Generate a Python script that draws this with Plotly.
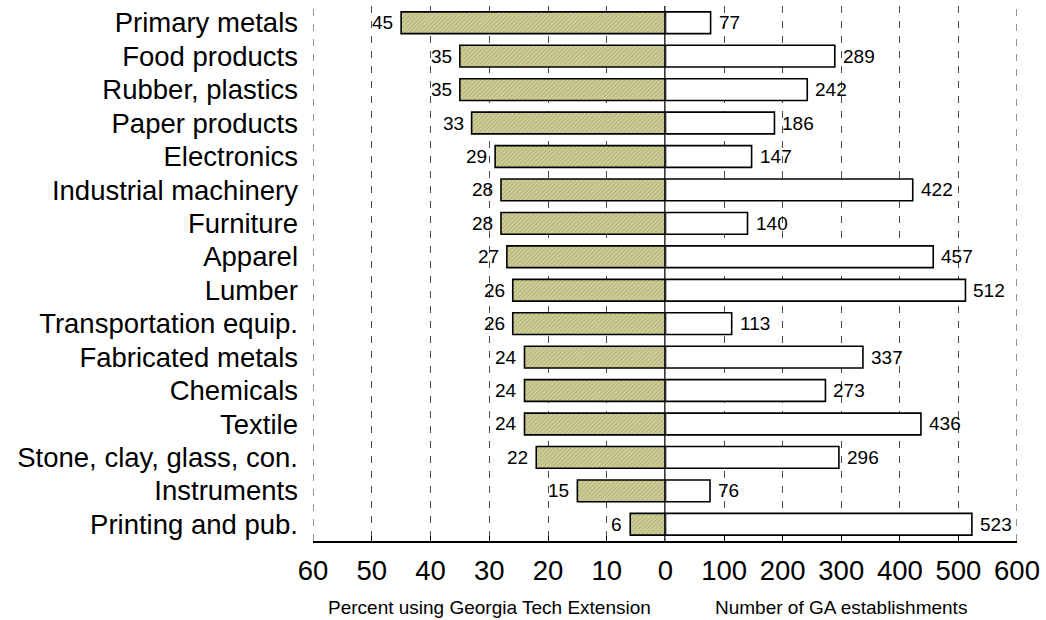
import plotly.graph_objects as go

industries = [
    "Primary metals", "Food products", "Rubber, plastics", "Paper products",
    "Electronics", "Industrial machinery", "Furniture", "Apparel", "Lumber",
    "Transportation equip.", "Fabricated metals", "Chemicals", "Textile",
    "Stone, clay, glass, con.", "Instruments", "Printing and pub.",
]
pct_using = [45, 35, 35, 33, 29, 28, 28, 27, 26, 26, 24, 24, 24, 22, 15, 6]
num_establishments = [77, 289, 242, 186, 147, 422, 140, 457, 512, 113,
                      337, 273, 436, 296, 76, 523]

left_ticks = [60, 50, 40, 30, 20, 10, 0]
right_ticks = [100, 200, 300, 400, 500, 600]

FONT = "Liberation Sans, Arial, sans-serif"
GRID_DASH = "7px,8px"
GRID_COLOR = "#4a4a4a"

fig = go.Figure()

fig.add_trace(go.Bar(
    y=industries, x=pct_using, orientation="h", xaxis="x", yaxis="y",
    marker=dict(
        color="#d0d098",
        line=dict(color="black", width=1.6),
        pattern=dict(shape="/", fgcolor="#8f8f5c", size=3, solidity=0.35),
    ),
    showlegend=False, hoverinfo="x+y",
))

fig.add_trace(go.Bar(
    y=industries, x=num_establishments, orientation="h", xaxis="x2", yaxis="y",
    marker=dict(color="white", line=dict(color="black", width=1.6)),
    showlegend=False, hoverinfo="x+y",
))

annotations = []
for name, v in zip(industries, pct_using):
    annotations.append(dict(
        x=v, y=name, xref="x", yref="y", text=str(v), showarrow=False,
        xanchor="right", xshift=-6, font=dict(size=19, color="black", family=FONT),
    ))
for name, v in zip(industries, num_establishments):
    annotations.append(dict(
        x=v, y=name, xref="x2", yref="y", text=str(v), showarrow=False,
        xanchor="left", xshift=6, font=dict(size=19, color="black", family=FONT),
    ))

# axis titles under each half
annotations.append(dict(
    x=30, xref="x", y=-0.125, yref="paper", yanchor="middle",
    text="Percent using Georgia Tech Extension", showarrow=False,
    font=dict(size=19, color="black", family=FONT),
))
annotations.append(dict(
    x=300, xref="x2", y=-0.125, yref="paper", yanchor="middle",
    text="Number of GA establishments", showarrow=False,
    font=dict(size=19, color="black", family=FONT),
))

axis_common = dict(
    showline=True, linecolor="black", linewidth=1.5,
    ticks="inside", ticklen=5, tickcolor="black", tickwidth=1.2,
    showgrid=True, gridcolor=GRID_COLOR, gridwidth=1.2, griddash=GRID_DASH,
    zeroline=False, ticklabelstandoff=4,
    tickfont=dict(size=27.5, color="black", family=FONT),
    fixedrange=True,
)

shapes = [
    # dashed grid lines on the outer edges (60 % and 600)
    dict(type="line", xref="x", yref="paper", x0=60, x1=60, y0=0, y1=1,
         line=dict(color=GRID_COLOR, width=1.2, dash=GRID_DASH), layer="below"),
    dict(type="line", xref="x2", yref="paper", x0=600, x1=600, y0=0, y1=1,
         line=dict(color=GRID_COLOR, width=1.2, dash=GRID_DASH), layer="below"),
    # central zero line
    dict(type="line", xref="x", yref="paper", x0=0, x1=0, y0=0, y1=1,
         line=dict(color="black", width=2.5), layer="above"),
]

fig.update_layout(
    width=1046, height=620,
    margin=dict(l=313, r=26, t=6, b=79),
    paper_bgcolor="white", plot_bgcolor="white",
    bargap=0.35,
    font=dict(family=FONT, color="black"),
    xaxis=dict(domain=[0, 0.5007], range=[60, 0], tickvals=left_ticks,
               anchor="y", **axis_common),
    xaxis2=dict(domain=[0.5007, 1], range=[0, 600], tickvals=right_ticks,
                anchor="y", **axis_common),
    yaxis=dict(
        categoryorder="array", categoryarray=industries[::-1],
        range=[-0.5, len(industries) - 0.5],
        showgrid=False, zeroline=False, showline=False, ticks="",
        ticklabelstandoff=14,
        tickfont=dict(size=27.5, color="black", family=FONT),
        fixedrange=True,
    ),
    annotations=annotations,
    shapes=shapes,
)

fig.write_html("out.html")
